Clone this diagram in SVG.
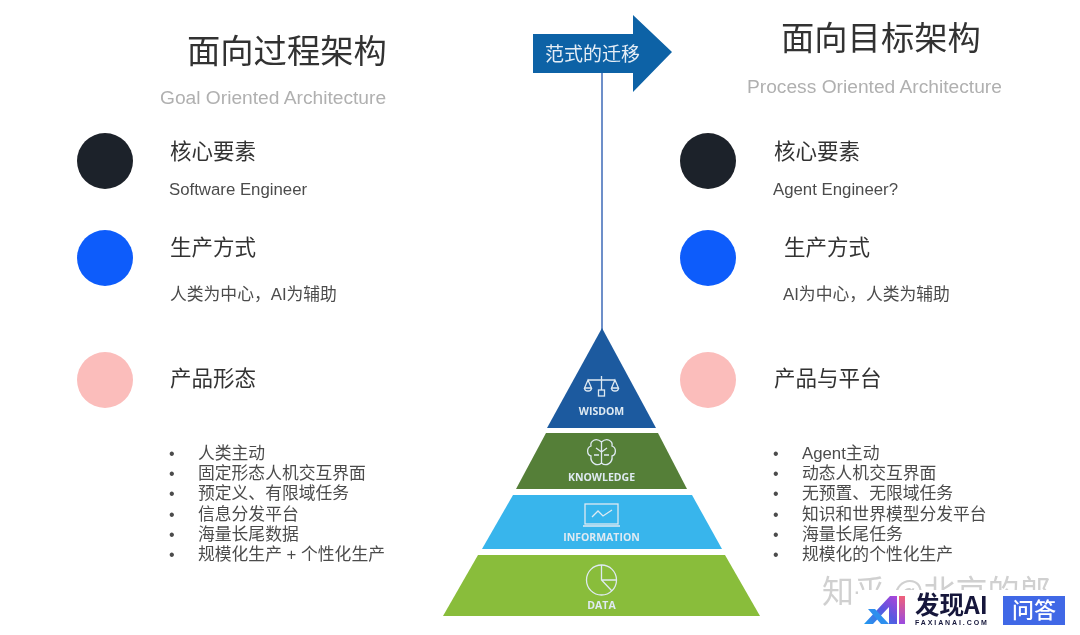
<svg xmlns="http://www.w3.org/2000/svg" width="1080" height="635" viewBox="0 0 1080 635">
<defs>
<linearGradient id="logoA" x1="0" y1="1" x2="1" y2="0"><stop offset="0" stop-color="#1f9df0"/><stop offset="0.55" stop-color="#5a56e0"/><stop offset="1" stop-color="#b045d8"/></linearGradient>
<linearGradient id="logoI" x1="0" y1="0" x2="0" y2="1"><stop offset="0" stop-color="#f0607a"/><stop offset="1" stop-color="#9a4be0"/></linearGradient>
<filter id="soft" x="0" y="0" width="100%" height="100%"><feGaussianBlur stdDeviation="0.4"/></filter>
</defs>
<style>
text{font-family:"Liberation Sans","Noto Sans CJK SC",sans-serif}
.title{font-family:"Noto Sans CJK SC",sans-serif;font-size:33.3px;fill:#333;font-weight:400}
.sub{font-size:19.2px;fill:#b0b0b0}
.head{font-family:"Noto Sans CJK SC",sans-serif;font-size:21.5px;fill:#333}
.body{font-size:16.8px;fill:#4c4c4c}
.li{font-size:16.8px;fill:#4c4c4c}
.dot{font-size:16px;fill:#4c4c4c}
.py{font-family:"Open Sans","Liberation Sans",sans-serif;font-size:10.5px;font-weight:700;fill:#dfeaf2;text-anchor:middle}
.ic{fill:none;stroke:#dfeaf2;stroke-width:1.3}
</style>
<rect width="1080" height="635" fill="#fff"/>
<g filter="url(#soft)">
<g id="connectors"><line x1="602" y1="70" x2="602" y2="330" stroke="#6d8fc9" stroke-width="2"/></g>
<g id="arrow"><polygon points="533,34 633,34 633,15 672,52 633,92 633,73 533,73" fill="#0d62a6"/>
<text x="545" y="61" font-size="19" fill="#e6eef6" style="font-family:'Noto Sans CJK SC',sans-serif">范式的迁移</text></g>

<g id="left-title"><text class="title" x="187" y="63">面向过程架构</text><text class="sub" x="160" y="104">Goal Oriented Architecture</text></g>
<g id="right-title"><text class="title" x="781" y="50">面向目标架构</text><text class="sub" x="747" y="93">Process Oriented Architecture</text></g>

<g id="left-core"><circle cx="105" cy="161" r="28" fill="#1e2229"/><text class="head" x="170" y="159">核心要素</text><text class="body" x="169" y="195">Software Engineer</text></g>
<g id="left-mode"><circle cx="105" cy="258" r="28" fill="#0b5cfb"/><text class="head" x="170" y="255">生产方式</text><text class="body" x="170" y="300">人类为中心，AI为辅助</text></g>
<g id="left-form"><circle cx="105" cy="380" r="28" fill="#fbbdbb"/><text class="head" x="170" y="386">产品形态</text></g>
<g id="left-list">
<text class="dot" x="169" y="459">•</text><text class="li" x="198" y="459">人类主动</text>
<text class="dot" x="169" y="479">•</text><text class="li" x="198" y="479">固定形态人机交互界面</text>
<text class="dot" x="169" y="499">•</text><text class="li" x="198" y="499">预定义、有限域任务</text>
<text class="dot" x="169" y="520">•</text><text class="li" x="198" y="520">信息分发平台</text>
<text class="dot" x="169" y="540">•</text><text class="li" x="198" y="540">海量长尾数据</text>
<text class="dot" x="169" y="560">•</text><text class="li" x="198" y="560">规模化生产 + 个性化生产</text>
</g>

<g id="right-core"><circle cx="708" cy="161" r="28" fill="#1e2229"/><text class="head" x="774" y="159">核心要素</text><text class="body" x="773" y="195">Agent Engineer?</text></g>
<g id="right-mode"><circle cx="708" cy="258" r="28" fill="#0b5cfb"/><text class="head" x="784" y="255">生产方式</text><text class="body" x="783" y="300">AI为中心，人类为辅助</text></g>
<g id="right-form"><circle cx="708" cy="380" r="28" fill="#fbbdbb"/><text class="head" x="774" y="386">产品与平台</text></g>
<g id="right-list">
<text class="dot" x="773" y="459">•</text><text class="li" x="802" y="459">Agent主动</text>
<text class="dot" x="773" y="479">•</text><text class="li" x="802" y="479">动态人机交互界面</text>
<text class="dot" x="773" y="499">•</text><text class="li" x="802" y="499">无预置、无限域任务</text>
<text class="dot" x="773" y="520">•</text><text class="li" x="802" y="520">知识和世界模型分发平台</text>
<text class="dot" x="773" y="540">•</text><text class="li" x="802" y="540">海量长尾任务</text>
<text class="dot" x="773" y="560">•</text><text class="li" x="802" y="560">规模化的个性化生产</text>
</g>

<g id="wisdom"><polygon points="602,328 656,428 547,428" fill="#1d5a9f"/>
<path class="ic" d="M601.500 376V390M588 380H615M588 380L584.500 388H591.500ZM615 380L611.500 388H618.500ZM584.500 388A3.500 3 0 0 0 591.500 388M611.500 388A3.500 3 0 0 0 618.500 388"/><rect class="ic" x="598.500" y="390" width="6" height="6"/>
<text class="py" x="601.500" y="415">WISDOM</text></g>
<g id="knowledge"><polygon points="546,433 658,433 687,489 516,489" fill="#557f38"/>
<path class="ic" d="M601.500 442C596 437 590 441 591 446C586 448 587 455 591 456C590 463 597 467 601.500 463C606 467 613 463 612 456C616 455 617 448 612 446C613 441 607 437 601.500 442ZM601.500 442V463M596 448L601.500 452M607 448L601.500 452M594 455H599M609 455H604"/>
<text class="py" x="601.500" y="481">KNOWLEDGE</text></g>
<g id="information"><polygon points="513,495 692,495 722,549 482,549" fill="#38b5ec"/>
<rect class="ic" x="585" y="504" width="33" height="20"/><path class="ic" d="M583 526H620M592 517L598 511L603 516L612 510"/>
<text class="py" x="601.500" y="541">INFORMATION</text></g>
<g id="data"><polygon points="478,555 725,555 760,616 443,616" fill="#89bd3a"/>
<circle class="ic" cx="601.500" cy="580" r="15"/><path class="ic" d="M601.500 565V580L612 591M601.500 580H616.500"/>
<text class="py" x="601.500" y="609">DATA</text></g>

<g id="watermark"><text x="822" y="603" font-size="32" fill="#d0d0d0" style="font-family:'Noto Sans CJK SC',sans-serif">知乎 @北京的郎</text>
<rect x="858" y="590" width="222" height="45" fill="#fff"/></g>
<g id="logo">
<polygon points="864,624 890,596 897,596 897,624 889,624 889,607 873,624" fill="url(#logoA)"/>
<polygon points="868,609 875,609 889,624 881,624" fill="#2f8fee"/>
<rect x="899" y="596" width="6" height="28" fill="url(#logoI)"/>
<text x="915" y="614" font-size="24.500" font-weight="700" fill="#15173a" style="font-family:'Noto Sans CJK SC',sans-serif">发现AI</text>
<text x="915" y="625" font-size="7" font-weight="700" letter-spacing="1.900" fill="#15173a">FAXIANAI.COM</text>
<rect x="1003" y="596" width="62" height="29" fill="#4168e6"/>
<text x="1034" y="618" font-size="22" font-weight="500" fill="#fff" text-anchor="middle" style="font-family:'Noto Sans CJK SC',sans-serif">问答</text>
</g>
</g>
</svg>
